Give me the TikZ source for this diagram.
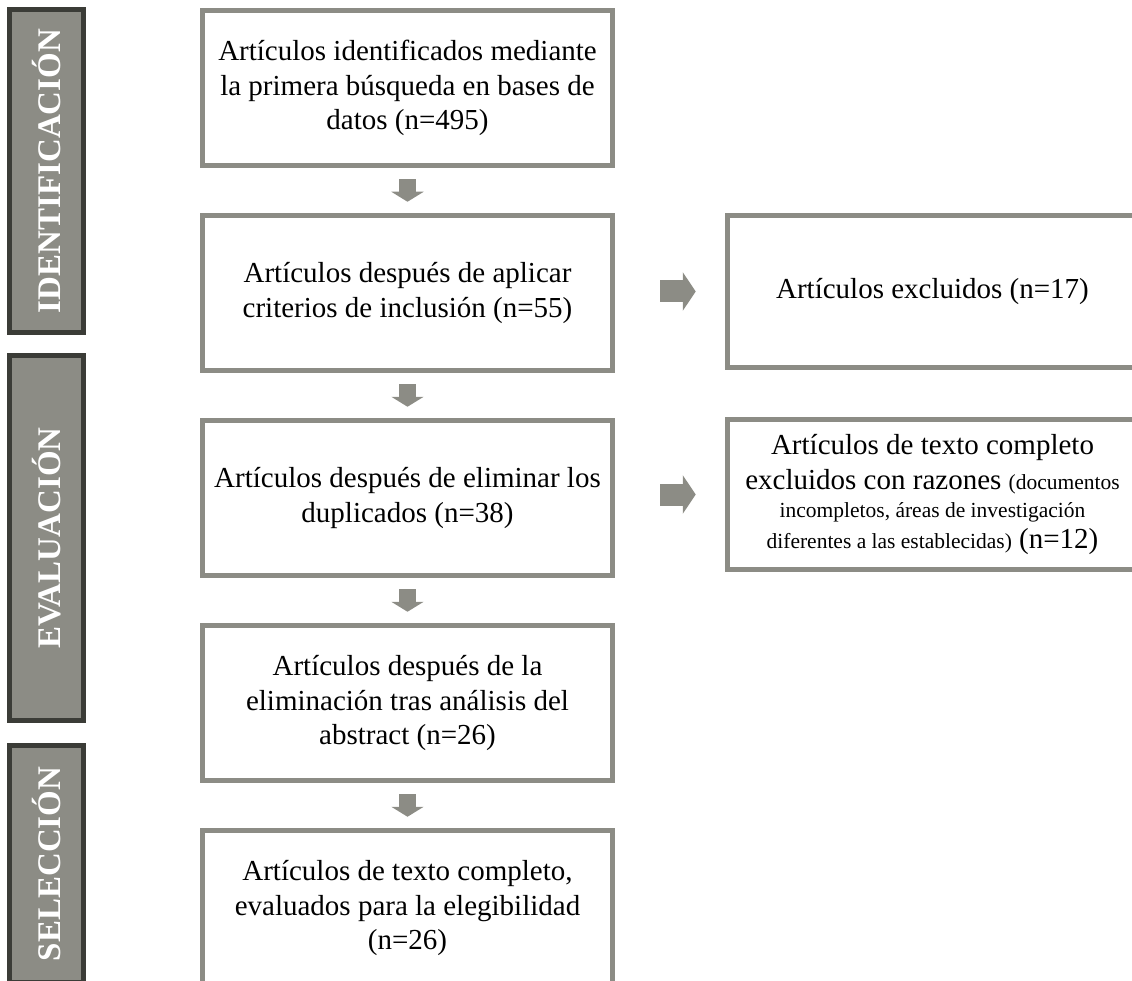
\documentclass[tikz,border=0pt]{standalone}
\usepackage{fontspec}
\setmainfont{Liberation Serif}
\usetikzlibrary{arrows.meta}

\definecolor{boxgray}{HTML}{8C8C85}
\definecolor{bardark}{HTML}{3B3C37}
\newcommand{\reasonfont}{\fontsize{21.5}{28}\selectfont}

\begin{document}
\begin{tikzpicture}[x=1pt, y=-1pt,
  stepbox/.style={draw=boxgray, line width=5.5pt, minimum width=410pt, minimum height=155pt, align=center, font=\fontsize{29}{34.5}\selectfont},
  phasebar/.style={draw=bardark, fill=boxgray, line width=5.5pt, rotate=90, minimum height=74pt, text=white, font=\fontsize{33}{36}\selectfont\bfseries},
  downarrow/.style={draw=boxgray, line width=17pt, -{Triangle[length=10pt, width=32pt]}, shorten <=11pt, shorten >=11pt},
  sidearrow/.style={draw=boxgray, line width=22pt, -{Triangle[length=13pt, width=38pt]}, shorten <=45pt, shorten >=29pt}]

\useasboundingbox (0,0) rectangle (1132,981);
\clip (0,0) rectangle (1132,981);

% phases
\node[phasebar, minimum width=323pt] (ident) at (46.5,171) {IDENTIFICACIÓN};
\node[phasebar, minimum width=365pt] (eval) at (46.5,538) {EVALUACIÓN};
\node[phasebar, minimum width=237pt] (selec) at (46.5,864) {SELECCIÓN};

% main column
\node[stepbox] (b1) at (407.5,88) {Artículos identificados mediante\\la primera búsqueda en bases de\\datos (n=495)};
\node[stepbox] (b2) at (407.5,293) {Artículos después de aplicar\\criterios de inclusión (n=55)};
\node[stepbox] (b3) at (407.5,498) {Artículos después de eliminar los\\duplicados (n=38)};
\node[stepbox] (b4) at (407.5,703) {Artículos después de la\\eliminación tras análisis del\\abstract (n=26)};
\node[stepbox] (b5) at (407.5,908) {Artículos de texto completo,\\evaluados para la elegibilidad\\(n=26)};

% excluded
\node[stepbox, minimum height=152pt] (r1) at (932.5,291.5) {Artículos excluidos (n=17)};
\node[stepbox, minimum height=150pt] (r2) at (932.5,494.5) {Artículos de texto completo\\excluidos con razones {\reasonfont (documentos}\\[-6pt]{\reasonfont incompletos, áreas de investigación}\\[-4pt]{\reasonfont diferentes a las establecidas)} (n=12)};

\path[downarrow] (b1) -- (b2);
\path[downarrow] (b2) -- (b3);
\path[downarrow] (b3) -- (b4);
\path[downarrow] (b4) -- (b5);
\path[sidearrow] (b2.east |- r1.west) -- (r1.west);
\path[sidearrow] (b3.east |- r2.west) -- (r2.west);

\end{tikzpicture}
\end{document}
